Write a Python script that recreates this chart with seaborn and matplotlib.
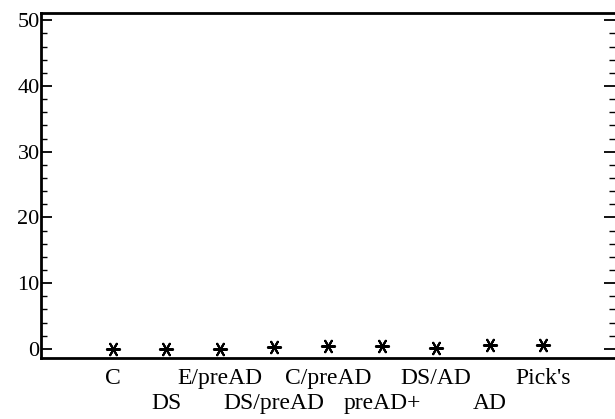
import numpy as np
import pandas as pd
import seaborn as sns
import matplotlib.pyplot as plt
from matplotlib.ticker import MultipleLocator, FixedLocator, FixedFormatter

# Data
groups = ["C", "DS", "E/preAD", "DS/preAD", "C/preAD", "preAD+", "DS/AD", "AD", "Pick's"]
values = [0.0, 0.0, 0.0, 0.3, 0.4, 0.4, 0.1, 0.6, 0.6]

data = pd.DataFrame({"group": groups, "value": values})
data["pos"] = np.arange(1, len(groups) + 1)

sns.set_style("ticks")
plt.rcParams['font.family'] = ['Liberation Serif', 'DejaVu Serif']
plt.rcParams['text.color'] = 'black'

fig = plt.figure(figsize=(6.15, 4.19), dpi=100)
ax = fig.add_axes([41 / 615, 61 / 419, 1 - 41 / 615, 345 / 419])

sns.scatterplot(x="pos", y="value", data=data, ax=ax, marker=(6, 2, 90),
                s=90, color="black", linewidth=1.5, legend=False)

ax.set_xlim(-0.33, 10.33)
ax.set_ylim(-1.4, 51.1)

# staggered category labels: first row on major ticks, second row on minor ticks
top_row = data.iloc[::2]
low_row = data.iloc[1::2]
ax.xaxis.set_major_locator(FixedLocator(top_row["pos"]))
ax.xaxis.set_major_formatter(FixedFormatter(list(top_row["group"])))
ax.xaxis.set_minor_locator(FixedLocator(low_row["pos"]))
ax.xaxis.set_minor_formatter(FixedFormatter(list(low_row["group"])))
ax.tick_params(axis="x", which="major", length=0, pad=7, labelsize=17, labelcolor="black")
ax.tick_params(axis="x", which="minor", length=0, pad=25, labelsize=17, labelcolor="black")

ax.yaxis.set_major_locator(MultipleLocator(10))
ax.yaxis.set_minor_locator(MultipleLocator(2))
ax.tick_params(axis="y", which="major", direction="in", length=8, width=1.3,
               labelsize=16, pad=1, right=True, labelcolor="black", color="black")
ax.tick_params(axis="y", which="minor", direction="in", length=4, width=1.0,
               right=True, color="black")

ax.spines["right"].set_visible(False)
for side in ["left", "bottom", "top"]:
    ax.spines[side].set_linewidth(2.0)
    ax.spines[side].set_color("black")

ax.set_xlabel("")
ax.set_ylabel("")

fig.savefig("out.png", dpi=100)
